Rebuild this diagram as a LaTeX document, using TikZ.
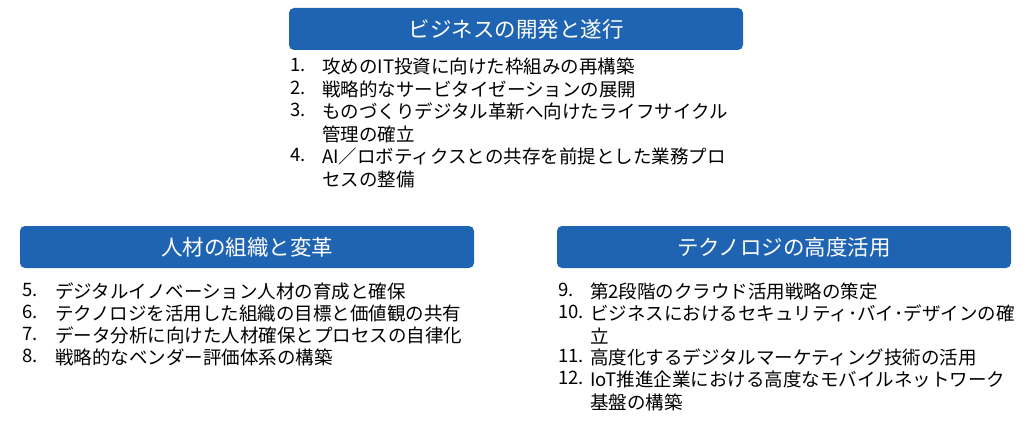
\documentclass[tikz,border=0pt]{standalone}
\usepackage{fontspec}
\setmainfont{Noto Sans CJK JP}
\definecolor{hdr}{HTML}{1F63B3}
\begin{document}
\begin{tikzpicture}[x=1pt,y=-1pt,
  htext/.style={text=white,font=\fontsize{21.5}{24}\selectfont},
  num/.style={anchor=north west,inner sep=0pt,font=\fontsize{18.5}{22.5}\selectfont},
  itm/.style={anchor=north west,inner sep=0pt,align=left,font=\fontsize{18.5}{22.5}\selectfont}]
\useasboundingbox (0,0) rectangle (1030,425);
\fill[hdr,rounded corners=5pt] (289,8) rectangle (743,50);
\node[htext] (h1) at (516,29) {ビジネスの開発と遂行};
\fill[hdr,rounded corners=5pt] (20,226) rectangle (474,268);
\node[htext] (h2) at (247,247) {人材の組織と変革};
\fill[hdr,rounded corners=5pt] (557,226) rectangle (1011,268);
\node[htext] (h3) at (784,247) {テクノロジの高度活用};
\foreach \n/\y/\t in {1./58/攻めのIT投資に向けた枠組みの再構築, 2./81/戦略的なサービタイゼーションの展開,
  3./103/{ものづくりデジタル革新へ向けたライフサイクル\\管理の確立}, 4./148/{AI／ロボティクスとの共存を前提とした業務プロ\\セスの整備}}{
  \node[num] at (290,\y) {\n};
  \node[itm] at (322,\y) {\t};
}
\foreach \n/\y/\t in {5./283/デジタルイノベーション人材の育成と確保, 6./305/テクノロジを活用した組織の目標と価値観の共有,
  7./327/データ分析に向けた人材確保とプロセスの自律化, 8./349/戦略的なベンダー評価体系の構築}{
  \node[num] at (22,\y) {\n};
  \node[itm] at (55,\y) {\t};
}
\foreach \n/\y/\t in {9./283/第2段階のクラウド活用戦略の策定, 10./305/{ビジネスにおけるセキュリティ･バイ･デザインの確\\立},
  11./349/高度化するデジタルマーケティング技術の活用, 12./371/{IoT推進企業における高度なモバイルネットワーク\\基盤の構築}}{
  \node[num] at (558,\y) {\n};
  \node[itm] at (590,\y) {\t};
}
\end{tikzpicture}
\end{document}
